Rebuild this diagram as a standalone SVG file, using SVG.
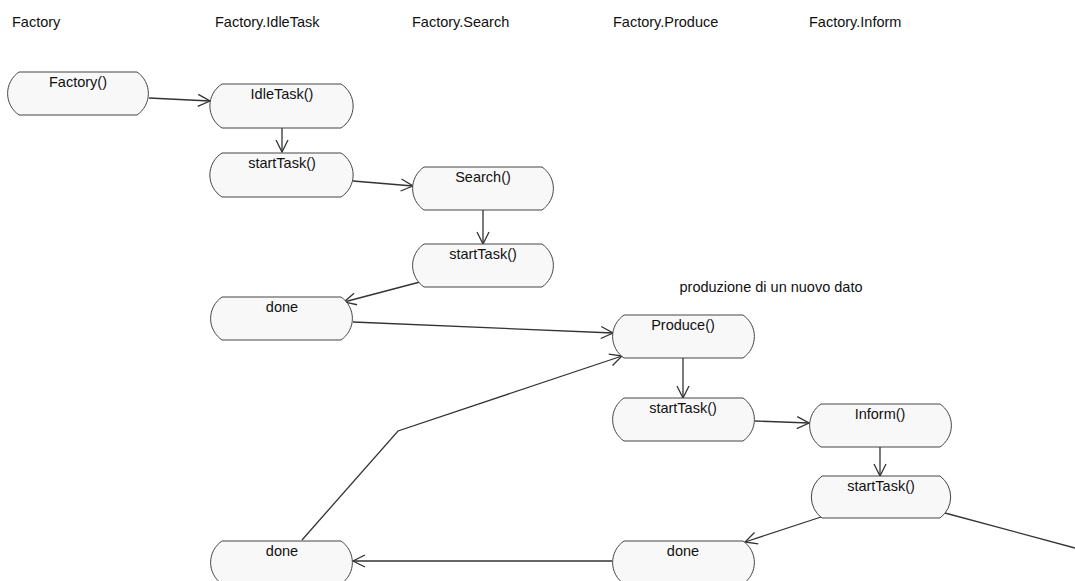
<svg xmlns="http://www.w3.org/2000/svg" width="1075" height="581" viewBox="0 0 1075 581">
  <style>
    .lane { font-family: "Liberation Sans", Arial, sans-serif; font-size: 14.5px; fill: #111; }
    .lbl { font-family: "Liberation Sans", Arial, sans-serif; font-size: 14.5px; fill: #111; text-anchor: middle; }
    .state { fill: #f8f8f8; stroke: #444; stroke-width: 1; }
    .edge { fill: none; stroke: #333; stroke-width: 1.3; }
    .arrow { marker-end: url(#open); }
  </style>
  <defs>
    <marker id="open" viewBox="0 0 14 14" refX="13" refY="7" markerWidth="14" markerHeight="14" orient="auto" markerUnits="userSpaceOnUse">
      <path d="M1,1 L13,7 L1,13" fill="none" stroke="#333" stroke-width="1.3"/>
    </marker>
  </defs>
  <rect width="1075" height="581" fill="#ffffff"/>

  <!-- swimlane headings -->
  <g id="lanes">
    <text class="lane" x="12" y="27">Factory</text>
    <text class="lane" x="215" y="27">Factory.IdleTask</text>
    <text class="lane" x="412" y="27">Factory.Search</text>
    <text class="lane" x="613" y="27">Factory.Produce</text>
    <text class="lane" x="809" y="27">Factory.Inform</text>
  </g>

  <g id="note">
    <text class="lbl" x="771" y="292">produzione di un nuovo dato</text>
  </g>

  <!-- connectors -->
  <g id="connectors">
    <path class="edge arrow" d="M149,98 L210,101"/>
    <path class="edge arrow" d="M282,128 L282,152"/>
    <path class="edge arrow" d="M353,181 L413,186"/>
    <path class="edge arrow" d="M483,210 L483,244"/>
    <path class="edge arrow" d="M420,282 L344,302"/>
    <path class="edge arrow" d="M353,322 L613,333"/>
    <path class="edge arrow" d="M302,540 L398,431 L622,356"/>
    <path class="edge arrow" d="M683,358 L683,398"/>
    <path class="edge arrow" d="M755,421 L809,423"/>
    <path class="edge arrow" d="M880,447 L880,476"/>
    <path class="edge arrow" d="M821,517 L745,542"/>
    <path class="edge arrow" d="M612,561 L353,561"/>
    <path class="edge" d="M945,513 L1075,548"/>
  </g>

  <!-- states -->
  <g id="n-factory">
    <path class="state" d="M19,72 H137 A26,26 0 0 1 137,115 H19 A26,26 0 0 1 19,72 Z"/>
    <text class="lbl" x="78" y="87">Factory()</text>
  </g>
  <g id="n-idletask">
    <path class="state" d="M222,84 H341 A26,26 0 0 1 341,128 H222 A26,26 0 0 1 222,84 Z"/>
    <text class="lbl" x="282" y="99">IdleTask()</text>
  </g>
  <g id="n-idle-start">
    <path class="state" d="M222,153 H341 A26,26 0 0 1 341,197 H222 A26,26 0 0 1 222,153 Z"/>
    <text class="lbl" x="282" y="168">startTask()</text>
  </g>
  <g id="n-search">
    <path class="state" d="M424,167 H542 A26,26 0 0 1 542,210 H424 A26,26 0 0 1 424,167 Z"/>
    <text class="lbl" x="483" y="182">Search()</text>
  </g>
  <g id="n-search-start">
    <path class="state" d="M424,244 H542 A26,26 0 0 1 542,287 H424 A26,26 0 0 1 424,244 Z"/>
    <text class="lbl" x="483" y="259">startTask()</text>
  </g>
  <g id="n-idle-done">
    <path class="state" d="M222,297 H341 A26,26 0 0 1 341,340 H222 A26,26 0 0 1 222,297 Z"/>
    <text class="lbl" x="282" y="312">done</text>
  </g>
  <g id="n-produce">
    <path class="state" d="M624,315 H743 A26,26 0 0 1 743,358 H624 A26,26 0 0 1 624,315 Z"/>
    <text class="lbl" x="683" y="330">Produce()</text>
  </g>
  <g id="n-produce-start">
    <path class="state" d="M624,398 H743 A26,26 0 0 1 743,441 H624 A26,26 0 0 1 624,398 Z"/>
    <text class="lbl" x="683" y="413">startTask()</text>
  </g>
  <g id="n-inform">
    <path class="state" d="M821,404 H940 A26,26 0 0 1 940,447 H821 A26,26 0 0 1 821,404 Z"/>
    <text class="lbl" x="880" y="419">Inform()</text>
  </g>
  <g id="n-inform-start">
    <path class="state" d="M822,476 H940 A26,26 0 0 1 940,518 H822 A26,26 0 0 1 822,476 Z"/>
    <text class="lbl" x="881" y="491">startTask()</text>
  </g>
  <g id="n-produce-done">
    <path class="state" d="M624,541 H743 A26,26 0 0 1 743,584 H624 A26,26 0 0 1 624,541 Z"/>
    <text class="lbl" x="683" y="556">done</text>
  </g>
  <g id="n-final-done">
    <path class="state" d="M222,541 H341 A26,26 0 0 1 341,584 H222 A26,26 0 0 1 222,541 Z"/>
    <text class="lbl" x="282" y="556">done</text>
  </g>
</svg>
